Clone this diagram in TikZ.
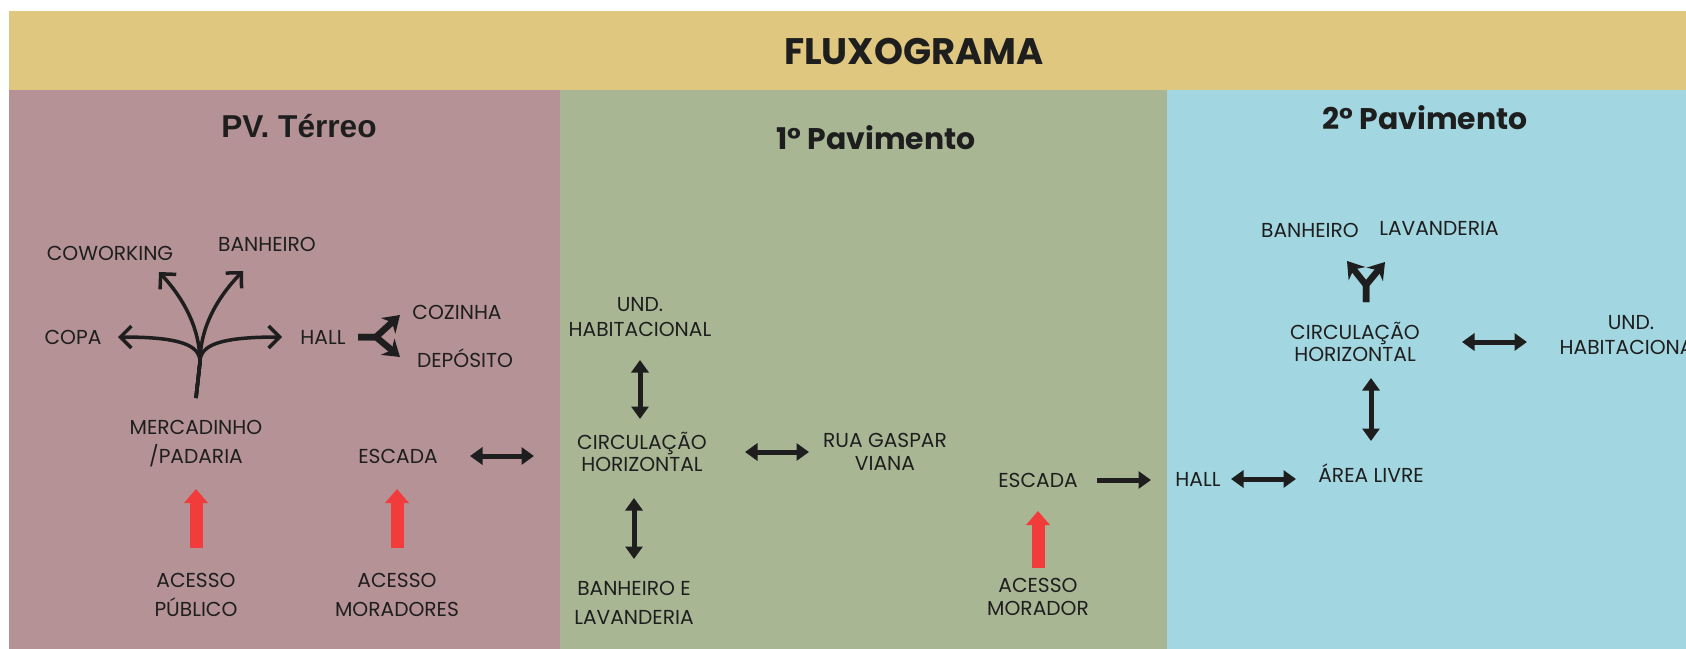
\documentclass[tikz,border=0pt]{standalone}
\usepackage{fontspec}
\setmainfont{Poppins}
\newfontfamily\arialfont{Liberation Sans}
\usetikzlibrary{arrows.meta, positioning}

\definecolor{hdrcol}{HTML}{E0C780}
\definecolor{pinkcol}{HTML}{B59295}
\definecolor{greencol}{HTML}{A8B694}
\definecolor{bluecol}{HTML}{A2D6E0}
\definecolor{redcol}{HTML}{F23B3B}
\definecolor{inkcol}{HTML}{1E1E1E}

\begin{document}
\begin{tikzpicture}[x=0.2mm, y=-0.2mm,
    lbl/.style={text=inkcol, inner sep=0pt, align=center, font=\fontsize{11.5}{14}\selectfont},
    tall/.style={font=\fontsize{11.5}{16.5}\selectfont},
    tight/.style={font=\fontsize{11.5}{12.8}\selectfont},
    dbl/.style={{Triangle[length=2.5mm,width=3.4mm]}-{Triangle[length=2.5mm,width=3.4mm]}, line width=1mm, inkcol},
    onearr/.style={-{Triangle[length=2.5mm,width=3.4mm]}, line width=1mm, inkcol},
    redarr/.style={-{Triangle[length=2.8mm,width=4.6mm]}, line width=2.6mm, redcol},
    branch/.style={-{Straight Barb[length=2.2mm,width=4.4mm]}, line width=0.7mm, inkcol},
    forkarr/.style={-{Stealth[length=3.2mm,width=4.2mm]}, line width=1.3mm, inkcol, line join=round}]
    \useasboundingbox (0,0) rectangle (1686,649);

    % panels
    \fill[hdrcol] (9,11) rectangle (1686,90);
    \fill[pinkcol] (9,90) rectangle (560,649);
    \fill[greencol] (560,90) rectangle (1167,649);
    \fill[bluecol] (1167,90) rectangle (1686,649);

    \node[text=inkcol, font=\fontsize{21}{24}\selectfont\bfseries] (title) at (914,51) {FLUXOGRAMA};
    \node[text=inkcol, font=\fontsize{18}{21}\selectfont\arialfont\bfseries] (pv) at (299,126) {PV. Térreo};
    \node[text=inkcol, font=\fontsize{17}{20}\selectfont\bfseries] (pav1) at (876,138) {1° Pavimento};
    \node[text=inkcol, font=\fontsize{17}{20}\selectfont\bfseries] (pav2) at (1425,118) {2° Pavimento};

    % terreo
    \node[lbl] (cowork) at (110,253) {COWORKING};
    \node[lbl] (banhP) at (267,244) {BANHEIRO};
    \node[lbl] (copa) at (73,337) {COPA};
    \node[lbl] (hallP) at (323,337) {HALL};
    \node[lbl] (cozinha) at (457,312) {COZINHA};
    \node[lbl] (deposito) at (465,358) {DEPÓSITO};
    \node[lbl, tall] (merc) at (196,444) {MERCADINHO\\/PADARIA};
    \node[lbl] (escP) at (398,456) {ESCADA};
    \node[lbl, tall] (pub) at (196,595) {ACESSO\\PÚBLICO};
    \node[lbl, tall] (mor) at (397,595) {ACESSO\\MORADORES};

    % 1 pavimento
    \node[lbl] (undG) at (640,317) {UND.\\HABITACIONAL};
    \node[lbl, tight] (circG) at (642,452) {CIRCULAÇÃO\\HORIZONTAL};
    \node[lbl, tight] (rua) at (885,452) {RUA GASPAR\\VIANA};
    \node[lbl, tall] (banhG) at (634,603) {BANHEIRO E\\LAVANDERIA};
    \node[lbl] (escG) at (1038,480) {ESCADA};
    \node[lbl, tight] (morG) at (1038,597) {ACESSO\\MORADOR};

    % 2 pavimento
    \node[lbl] (hallB) at (1198,479) {HALL};
    \node[lbl] (area) at (1371,473) {ÁREA LIVRE};
    \node[lbl, tight] (circB) at (1355,342) {CIRCULAÇÃO\\HORIZONTAL};
    \node[lbl] (undB) at (1631,335) {UND.\\HABITACIONAL};
    \node[lbl] (banhB) at (1310,230) {BANHEIRO};
    \node[lbl] (lavB) at (1439,228) {LAVANDERIA};

    % connectors terreo
    \coordinate (fork) at (200,362);
    \draw[branch] (merc.center) ++(0,-46) -- (fork) .. controls (200,345) and (180,337) .. ([xshift=45*0.2mm]copa.center);
    \draw[branch] (merc.center) ++(0,-46) -- (fork) .. controls (200,345) and (220,337) .. ([xshift=-41*0.2mm]hallP.center);
    \draw[branch] (merc.center) ++(0,-46) -- (fork) .. controls (200,330) and (185,300) .. ([shift={(49,19)}]cowork.center);
    \draw[branch] (merc.center) ++(0,-46) -- (fork) .. controls (200,330) and (215,300) .. ([shift={(-24,27)}]banhP.center);

    \coordinate (hjoin) at (376,337);
    \draw[forkarr] (hallP.center) ++(35,0) -- (hjoin) -- ([shift={(-57,3)}]cozinha.center);
    \draw[forkarr] (hallP.center) ++(35,0) -- (hjoin) -- ([shift={(-65,-1)}]deposito.center);

    \draw[redarr, shorten <=9.4mm, shorten >=9mm] (pub.center) -- (merc.center);
    \draw[redarr, shorten <=9.4mm, shorten >=6.6mm] (mor.center) -- (mor.center |- escP.center);
    \draw[dbl, shorten <=14.4mm, shorten >=21.6mm] (escP.center) -- (escP.center -| circG.center);

    % connectors 1 pavimento
    \draw[dbl, shorten <=8.6mm, shorten >=6.6mm] (undG.center) -- (undG.center |- circG.center);
    \draw[dbl, shorten <=9.2mm, shorten >=8.8mm] (banhG.center |- circG.center) -- (banhG.center);
    \draw[dbl, shorten <=20.6mm, shorten >=15.2mm] (circG.center) -- (circG.center -| rua.center);
    \draw[onearr, shorten <=11.8mm, shorten >=9.4mm] (escG.center) -- (escG.center -| hallB.center);
    \draw[redarr, shorten <=5.8mm, shorten >=6.2mm] (morG.center) -- (escG.center);

    % connectors 2 pavimento
    \draw[dbl, shorten <=6.6mm, shorten >=15mm] (hallB.center) -- (hallB.center -| area.center);
    \draw[dbl, shorten <=6.4mm, shorten >=7.2mm] (area.center) -- (area.center |- circB.center);
    \draw[dbl, shorten <=21.4mm, shorten >=20.8mm] (circB.center) -- (circB.center -| undB.center);

    \coordinate (yjoin) at (1366,285);
    \draw[forkarr] (yjoin) ++(0,17) -- (yjoin) -- ([shift={(37,31)}]banhB.center);
    \draw[forkarr] (yjoin) ++(0,17) -- (yjoin) -- ([shift={(-54,34)}]lavB.center);
\end{tikzpicture}
\end{document}
